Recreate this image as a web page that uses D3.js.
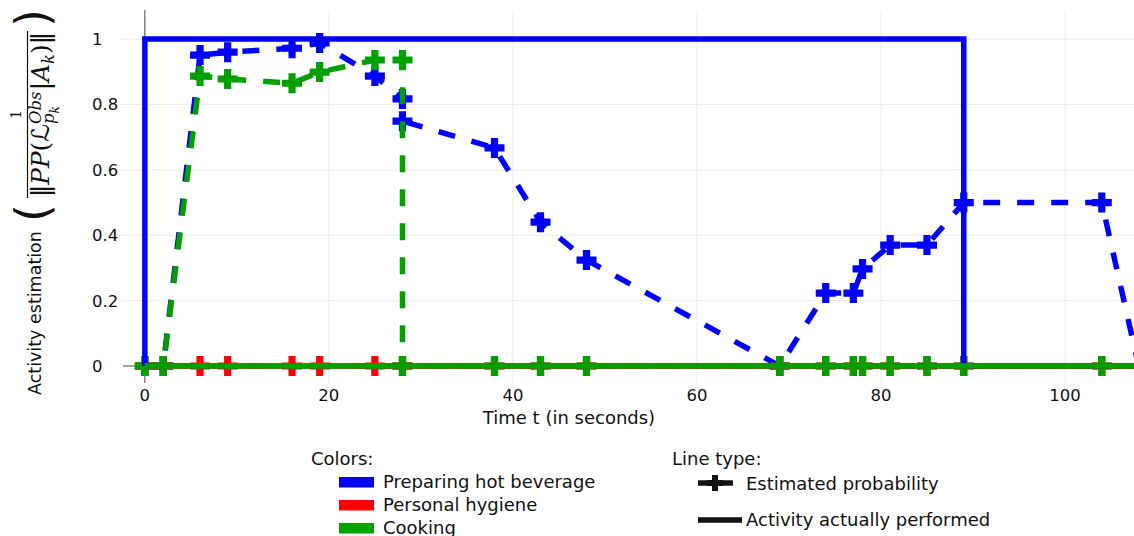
<!DOCTYPE html>
<html><head><meta charset="utf-8">
<script src="https://cdn.jsdelivr.net/npm/d3@7"></script>
<style>html,body{margin:0;padding:0;background:#fff;}svg{display:block;}</style>
</head><body>
<svg id="chart" width="1134" height="536"></svg>
<script>
// ---- data ----
const times = [0, 2, 6, 9, 16, 19, 25, 28, 28, 38, 43, 48, 69, 74, 77, 78, 81, 85, 89, 104, 108];
const beverageEst = [0, 0, 0.951, 0.960, 0.972, 0.988, 0.887, 0.817, 0.749, 0.667, 0.440, 0.324, 0, 0.223, 0.223, 0.297, 0.370, 0.370, 0.500, 0.500, 0];
const hygieneEst  = [0, 0, 0, 0, 0, 0, 0, 0, 0, 0, 0, 0, 0, 0, 0, 0, 0, 0, 0, 0, 0];
const cookingEst  = [0, 0, 0.887, 0.878, 0.865, 0.899, 0.936, 0.936, 0, 0, 0, 0, 0, 0, 0, 0, 0, 0, 0, 0, 0];
const actualTimes = [0, 0, 89, 89, 108];
const beverageActual = [0, 1, 1, 0, 0];
const hygieneActual  = [0, 0, 0, 0, 0];
const cookingActual  = [0, 0, 0, 0, 0];
const activities = ["Preparing hot beverage", "Personal hygiene", "Cooking"];
const colors = ["#0000ff", "#ff0000", "#00a000"];
const lineTypes = ["Estimated probability", "Activity actually performed"];
const xTicks = [0, 20, 40, 60, 80, 100];
const yTicks = [0, 0.2, 0.4, 0.6, 0.8, 1];

const svg = d3.select("#chart");
const pLeft = 120, pRight = 1134, pTop = 10, pBottom = 383;
const x = d3.scaleLinear().domain([-2.7, 107.5]).range([pLeft, pRight]);
const y = d3.scaleLinear().domain([-0.052, 1.089]).range([pBottom, pTop]);

svg.append("defs").append("clipPath").attr("id", "clip")
  .append("rect").attr("x", pLeft).attr("y", pTop).attr("width", pRight - pLeft).attr("height", pBottom - pTop);

// grid
const grid = svg.append("g");
grid.selectAll("line.gx").data(xTicks.filter(d => d !== 0)).join("line")
  .attr("x1", d => x(d)).attr("x2", d => x(d)).attr("y1", pTop).attr("y2", pBottom)
  .attr("stroke", "#ebebeb").attr("stroke-width", 1);
grid.selectAll("line.gy").data(yTicks.filter(d => d !== 0)).join("line")
  .attr("y1", d => y(d)).attr("y2", d => y(d)).attr("x1", pLeft).attr("x2", pRight)
  .attr("stroke", "#ebebeb").attr("stroke-width", 1);
// zero lines
grid.append("line").attr("x1", x(0)).attr("x2", x(0)).attr("y1", pTop).attr("y2", pBottom).attr("stroke", "#444").attr("stroke-width", 1);
grid.append("line").attr("x1", pLeft + 3).attr("x2", pRight).attr("y1", y(0)).attr("y2", y(0)).attr("stroke", "#444").attr("stroke-width", 1);

// tick labels
const tickFont = '16.5px "DejaVu Sans"';
svg.append("g").selectAll("text").data(xTicks).join("text")
  .attr("x", d => x(d)).attr("y", 401).attr("text-anchor", "middle")
  .style("font", tickFont).attr("fill", "#111").text(d => d);
svg.append("g").selectAll("text").data(yTicks).join("text")
  .attr("x", 92).attr("y", d => y(d)).attr("dy", "0.36em").attr("text-anchor", "start")
  .style("font", tickFont).attr("fill", "#111").text(d => d3.format("~g")(d));

svg.append("text").attr("x", 569).attr("y", 424).attr("text-anchor", "middle")
  .style("font", '18px "DejaVu Sans"').attr("fill", "#111").text("Time t (in seconds)");

// plot
const plot = svg.append("g").attr("clip-path", "url(#clip)");
const plus = (a, t) => `M${-a},${-t}H${-t}V${-a}H${t}V${-t}H${a}V${t}H${t}V${a}H${-t}V${t}H${-a}Z`;
const line = d3.line().x(d => x(d[0])).y(d => y(d[1]));

const estSeries = [beverageEst, hygieneEst, cookingEst];
estSeries.forEach((vals, i) => {
  const pts = times.map((t, k) => [t, vals[k]]);
  plot.append("path").datum(pts).attr("d", line).attr("fill", "none")
    .attr("stroke", colors[i]).attr("stroke-width", 5.5).attr("stroke-dasharray", "17,17");
  plot.append("g").selectAll("path").data(pts.filter(p => p[0] <= x.domain()[1])).join("path")
    .attr("transform", p => `translate(${x(p[0])},${y(p[1])})`)
    .attr("d", plus(10, 3.6)).attr("fill", colors[i]);
});
const actSeries = [beverageActual, hygieneActual, cookingActual];
actSeries.forEach((vals, i) => {
  const pts = actualTimes.map((t, k) => [t, vals[k]]);
  plot.append("path").datum(pts).attr("d", line).attr("fill", "none")
    .attr("stroke", colors[i]).attr("stroke-width", 5.5);
});

// y axis title (rotated, with formula)
const tg = svg.append("g").attr("transform", "translate(0,395) rotate(-90)").attr("fill", "#111");
tg.append("text").attr("x", 0).attr("y", 41).style("font", '17.5px "DejaVu Sans"').text("Activity estimation");
const den = tg.append("g");
let cx = 0;
function add(t, size, ly, fam, it) {
  const el = den.append("text").attr("x", cx).attr("y", ly).attr("font-size", size)
    .attr("font-family", fam).attr("font-style", it ? "italic" : "normal").text(t);
  return el.node().getComputedTextLength();
}
cx += add("‖", 18, 49, "DejaVu Sans", false);
cx += add("PP", 18, 49, "DejaVu Serif", true);
cx += add("(", 18, 49, "DejaVu Serif", false);
cx += add("ℒ", 18, 49, "DejaVu Sans", false);
const w1 = add("Obs", 12, 43, "DejaVu Serif", true);
const w2 = add("p", 12, 53, "DejaVu Serif", true);
const sx = cx; cx += w2;
const w3 = add("k", 9, 56, "DejaVu Serif", true);
cx = sx + Math.max(w1, w2 + w3) + 1;
cx += add("|", 18, 49, "DejaVu Sans", false);
cx += add("A", 18, 49, "DejaVu Serif", true);
cx += add("k", 12, 53, "DejaVu Serif", true);
cx += add(")", 18, 49, "DejaVu Serif", false);
cx += add("‖", 18, 49, "DejaVu Sans", false);
const denStart = 198, denEnd = 363;
const s = (denEnd - denStart) / cx;
den.attr("transform", `translate(${denStart},${49 * (1 - s)}) scale(${s})`);
const fracC = (denStart + denEnd) / 2;
tg.append("line").attr("x1", denStart - 1).attr("x2", denEnd + 1).attr("y1", 27.5).attr("y2", 27.5).attr("stroke", "#111").attr("stroke-width", 1.2);
tg.append("text").attr("x", fracC).attr("y", 21).attr("text-anchor", "middle").style("font", '14px "DejaVu Serif"').text("1");
tg.append("text").attr("x", 182).attr("y", 48).attr("text-anchor", "middle").style("font", '46px "DejaVu Sans"').text("(");
tg.append("text").attr("x", 377).attr("y", 48).attr("text-anchor", "middle").style("font", '46px "DejaVu Sans"').text(")");

// legend
const lg = svg.append("g").attr("fill", "#111");
lg.append("text").attr("x", 311).attr("y", 465).style("font", '18px "DejaVu Sans"').text("Colors:");
activities.forEach((a, i) => {
  lg.append("rect").attr("x", 339).attr("y", 477 + i * 23).attr("width", 35).attr("height", 10.5).attr("fill", colors[i]);
  lg.append("text").attr("x", 383).attr("y", 488 + i * 23).style("font", '18px "DejaVu Sans"').text(a);
});
lg.append("text").attr("x", 672).attr("y", 465).style("font", '18px "DejaVu Sans"').text("Line type:");
lg.append("line").attr("x1", 698).attr("x2", 712).attr("y1", 483).attr("y2", 483).attr("stroke", "#111").attr("stroke-width", 5.5);
lg.append("line").attr("x1", 723).attr("x2", 733).attr("y1", 483).attr("y2", 483).attr("stroke", "#111").attr("stroke-width", 5.5);
lg.append("path").attr("transform", "translate(715,483)").attr("d", plus(8, 3)).attr("fill", "#111");
lg.append("text").attr("x", 746).attr("y", 490).style("font", '18px "DejaVu Sans"').text(lineTypes[0]);
lg.append("line").attr("x1", 698).attr("x2", 742).attr("y1", 520).attr("y2", 520).attr("stroke", "#111").attr("stroke-width", 5.5);
lg.append("text").attr("x", 746).attr("y", 526).style("font", '18px "DejaVu Sans"').text(lineTypes[1]);
</script>
</body></html>
